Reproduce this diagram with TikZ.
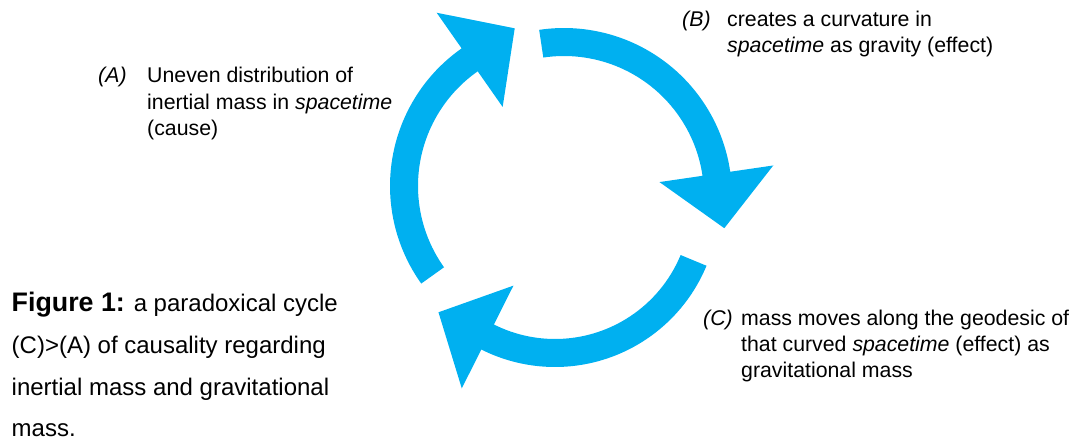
\documentclass[tikz,border=0pt]{standalone}
\usepackage{fontspec}
\setmainfont{Liberation Sans}
\usetikzlibrary{calc}
\definecolor{cycblue}{HTML}{00B0F0}

% A thick circular arrow: #1 centre, #2 tail angle, #3 head angle,
% #4 outer radius, #5 inner radius (head 115 wide, 55 long)
\newcommand\cyclearrow[5]{%
  \fill[cyc] ($(#1)+(#2:#4)$) arc[start angle=#2, end angle=#3, radius=#4]
    -- ($(#1)+(#3:{(#4+#5)/2+57.5})$)
    -- ($(#1)+(#3:{(#4+#5)/2})+(#3+90:55)$)
    -- ($(#1)+(#3:{(#4+#5)/2-57.5})$)
    -- ($(#1)+(#3:#5)$) arc[start angle=#3, end angle=#2, radius=#5]
    -- cycle;}

\begin{document}
\begin{tikzpicture}[x=1pt,y=-1pt,
  cyc/.style={fill=cycblue},
  lbl/.style={anchor=base west, inner sep=0pt, font=\fontsize{21.3}{26.3}\selectfont},
  tag/.style={anchor=base west, inner sep=0pt, font=\fontsize{21.3}{26.3}\selectfont\itshape},
  captext/.style={anchor=base west, inner sep=0pt, font=\fontsize{24}{41.7}\selectfont}]
\useasboundingbox (0,0) rectangle (1088,441);

% centres of the three arrows of the cycle
\coordinate (cA) at (558,186);
\coordinate (cB) at (564,196);
\coordinate (cC) at (555,203);

% (A) -> (B), (B) -> (C), (C) -> (A)
\cyclearrow{cA}{-215.5}{-125}{168}{140}
\cyclearrow{cB}{-98.5}{-8.3}{168}{140}
\cyclearrow{cC}{22.5}{116.7}{164}{136}

% labels
\node[tag] (tagA) at (98,83) {(A)};
\node[lbl] (textA) at (147,83) {\vtop{\hbox{Uneven distribution of}\hbox{inertial mass in \textit{spacetime}}\hbox{(cause)}}};

\node[tag] (tagB) at (682,26.5) {(B)};
\node[lbl] (textB) at (727,26.5) {\vtop{\hbox{creates a curvature in}\hbox{\textit{spacetime} as gravity (effect)}}};

\node[tag] (tagC) at (703,325) {(C)};
\node[lbl] (textC) at (741,325) {\vtop{\hbox{mass moves along the geodesic of}\hbox{that curved \textit{spacetime} (effect) as}\hbox{gravitational mass}}};

% caption
\node[captext] (caption) at (11.5,311.7) {\vtop{\hbox{{\fontsize{26.8}{41.7}\selectfont\bfseries Figure 1:} a paradoxical cycle}\hbox{(C)>(A) of causality regarding}\hbox{inertial mass and gravitational}\hbox{mass.}}};
\end{tikzpicture}
\end{document}
